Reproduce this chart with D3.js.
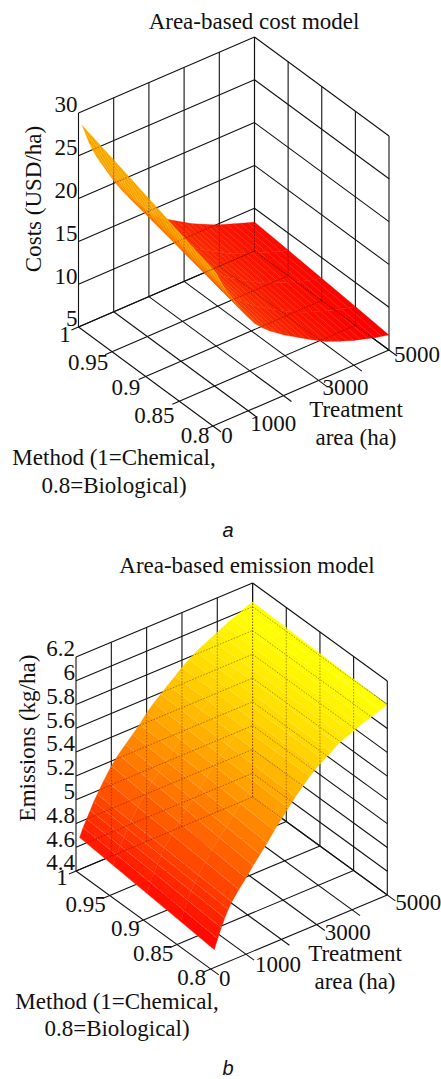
<!DOCTYPE html>
<html lang="en">

<head>
    <meta charset="UTF-8">
    <title>Area-based models</title>
    <script src="https://d3js.org/d3.v7.min.js"></script>
    <style>
        body { margin: 0; background: #fff; }
        svg { display: block; }
        text { font-family: "Liberation Serif", serif; fill: #111; }
    </style>
</head>

<body>
    <svg width="441" height="1079" class="block"></svg>
</body>

<script>
    // values
    var areas = [100, 200, 300, 400, 500, 600, 800, 1000, 1200, 1400, 1600, 1800, 2000, 2200, 2400, 2600, 2800, 3000, 3200, 3400, 3600, 3800, 4000, 4200, 4400, 4600, 4800, 5000];
    var areaTicks = [0, 1000, 2000, 3000, 4000, 5000];
    var areaLabels = [0, 1000, 3000, 5000];
    var methodTicks = [1, 0.95, 0.9, 0.85, 0.8];

    var costTicks = [5, 10, 15, 20, 25, 30];
    var costAt100 = [28.4, 27.2, 26.0, 25.0, 24.1, 23.3, 21.8, 20.3, 19.0, 17.8, 16.8, 15.8, 14.8, 14.0, 13.4, 12.9, 12.4, 11.9, 11.4, 11.0, 10.6, 10.2, 9.85, 9.55, 9.25, 8.95, 8.65, 8.4];
    var costAt95 = [27.0, 25.8, 24.7, 23.75, 22.9, 22.1, 20.65, 19.2, 17.95, 16.85, 15.9, 15.0, 14.1, 13.4, 12.8, 12.3, 11.8, 11.35, 10.85, 10.45, 10.1, 9.7, 9.4, 9.1, 8.8, 8.5, 8.2, 8.0];
    var costAt90 = [25.55, 24.45, 23.4, 22.5, 21.7, 20.95, 19.5, 18.1, 16.9, 15.9, 15.05, 14.25, 13.45, 12.8, 12.25, 11.75, 11.25, 10.8, 10.3, 9.9, 9.55, 9.2, 8.9, 8.6, 8.3, 8.05, 7.8, 7.6];
    var costAt85 = [24.1, 23.1, 22.1, 21.25, 20.5, 19.8, 18.35, 17.0, 15.85, 14.95, 14.2, 13.5, 12.8, 12.2, 11.7, 11.2, 10.7, 10.2, 9.75, 9.4, 9.0, 8.7, 8.4, 8.1, 7.85, 7.6, 7.4, 7.2];
    var costAt80 = [22.7, 21.7, 20.8, 20.0, 19.3, 18.6, 17.2, 15.9, 14.8, 14.0, 13.3, 12.7, 12.1, 11.6, 11.1, 10.6, 10.1, 9.65, 9.2, 8.85, 8.5, 8.2, 7.9, 7.65, 7.4, 7.15, 6.95, 6.75];

    var emissionTicks = [4.4, 4.6, 4.8, 5, 5.2, 5.4, 5.6, 5.8, 6, 6.2];
    var emissionAt100 = [4.67, 4.74, 4.80, 4.86, 4.92, 4.97, 5.07, 5.16, 5.23, 5.29, 5.35, 5.41, 5.48, 5.54, 5.59, 5.64, 5.69, 5.74, 5.78, 5.82, 5.85, 5.88, 5.91, 5.94, 5.97, 5.99, 6.02, 6.04];
    var emissionAt95 = [4.64, 4.715, 4.78, 4.84, 4.90, 4.95, 5.045, 5.13, 5.205, 5.265, 5.33, 5.395, 5.465, 5.525, 5.58, 5.635, 5.685, 5.735, 5.775, 5.815, 5.85, 5.88, 5.905, 5.935, 5.965, 5.985, 6.01, 6.03];
    var emissionAt90 = [4.61, 4.69, 4.76, 4.82, 4.88, 4.93, 5.02, 5.10, 5.18, 5.24, 5.31, 5.38, 5.45, 5.51, 5.57, 5.63, 5.68, 5.73, 5.77, 5.81, 5.85, 5.88, 5.90, 5.93, 5.96, 5.98, 6.00, 6.02];
    var emissionAt85 = [4.58, 4.66, 4.735, 4.80, 4.86, 4.91, 4.995, 5.07, 5.15, 5.215, 5.285, 5.36, 5.43, 5.495, 5.56, 5.62, 5.675, 5.725, 5.765, 5.805, 5.845, 5.875, 5.895, 5.925, 5.95, 5.97, 5.99, 6.01];
    var emissionAt80 = [4.55, 4.63, 4.71, 4.78, 4.84, 4.89, 4.97, 5.04, 5.12, 5.19, 5.26, 5.34, 5.41, 5.48, 5.55, 5.61, 5.67, 5.72, 5.76, 5.80, 5.84, 5.87, 5.89, 5.92, 5.94, 5.96, 5.98, 6.0];

    var svg = d3.select('.block');

    // fine mesh stripes for the cost surface
    var defs = svg.append('defs');
    defs.append('pattern')
        .attr('id', 'mesh')
        .attr('width', 2.2)
        .attr('height', 2.2)
        .attr('patternUnits', 'userSpaceOnUse')
        .attr('patternTransform', 'rotate(-30)')
        .append('rect')
        .attr('width', 0.9)
        .attr('height', 2.2)
        .attr('fill', '#800');

    // one 3D box: F = front floor corner, R = right, L = left, h = wall height
    function drawPanel(p, id) {
        var g = svg.append('g');

        var areaX = d3.scaleLinear().domain([0, 5000]).range([p.F[0], p.R[0]]);
        var areaY = d3.scaleLinear().domain([0, 5000]).range([p.F[1], p.R[1]]);
        var methodX = d3.scaleLinear().domain([0.8, 1]).range([0, p.L[0] - p.F[0]]);
        var methodY = d3.scaleLinear().domain([0.8, 1]).range([0, p.L[1] - p.F[1]]);
        var zZero = p.zTicks[0];
        var zMax = p.zTicks[p.zTicks.length - 1];
        var zHeight = d3.scaleLinear().domain([zZero, zMax]).range([0, -p.h]);

        function project(a, m, z) {
            return [areaX(a) + methodX(m), areaY(a) + methodY(m) + zHeight(z)];
        }

        // wall and floor lines as pairs of 3D points
        var wallLines = [];
        var floorLines = [];
        var tickA = 5000 * 0.04, tickM = 0.2 * 0.06;
        p.zTicks.forEach(function (z) {
            wallLines.push([[0, 1, z], [5000, 1, z]]);
            wallLines.push([[5000, 1, z], [5000, 0.8, z]]);
        });
        areaTicks.forEach(function (a) {
            wallLines.push([[a, 1, zZero], [a, 1, zMax]]);
            floorLines.push([[a, 1, zZero], [a, 0.8 - tickM, zZero]]);
        });
        methodTicks.forEach(function (m) {
            wallLines.push([[5000, m, zZero], [5000, m, zMax]]);
            floorLines.push([[5000, m, zZero], [0 - tickA, m, zZero]]);
        });

        var line = d3.line();
        function pathOf(d) {
            return line(d.map(function (q) { return project(q[0], q[1], q[2]); }));
        }

        g.append('g').selectAll('path')
            .data(wallLines.concat(floorLines))
            .enter()
            .append('path')
            .attr('d', pathOf)
            .attr('fill', 'none')
            .attr('stroke', '#111')
            .attr('stroke-width', 1.1);

        // surface cells, painted from the back corner to the front
        var cells = [];
        for (var j = areas.length - 2; j >= 0; j--) {
            for (var i = 0; i < methodTicks.length - 1; i++) {
                var zs = [p.values[i][j], p.values[i][j + 1], p.values[i + 1][j + 1], p.values[i + 1][j]];
                cells.push({
                    pts: [
                        project(areas[j], methodTicks[i], zs[0]),
                        project(areas[j + 1], methodTicks[i], zs[1]),
                        project(areas[j + 1], methodTicks[i + 1], zs[2]),
                        project(areas[j], methodTicks[i + 1], zs[3])
                    ],
                    z: d3.mean(zs)
                });
            }
        }
        function polyPath(d) { return line(d.pts) + 'Z'; }

        g.append('g').selectAll('path')
            .data(cells)
            .enter()
            .append('path')
            .attr('d', polyPath)
            .attr('fill', function (d) { return p.color(d.z); })
            .attr('stroke', function (d) { return p.color(d.z); })
            .attr('stroke-width', 0.3);

        g.append('clipPath').attr('id', id).selectAll('path')
            .data(cells)
            .enter()
            .append('path')
            .attr('d', polyPath);

        var over = g.append('g').attr('clip-path', 'url(#' + id + ')');

        if (p.fineMesh) {
            over.append('rect')
                .attr('x', 0).attr('y', 0).attr('width', 441).attr('height', 1079)
                .attr('fill', 'url(#mesh)')
                .attr('opacity', 0.13);
        } else {
            // pale mesh lines along each treatment area
            over.append('g').selectAll('path')
                .data(areas)
                .enter()
                .append('path')
                .attr('d', function (a, j) {
                    return line(methodTicks.map(function (m, i) { return project(a, m, p.values[i][j]); }));
                })
                .attr('fill', 'none')
                .attr('stroke', '#fff')
                .attr('stroke-width', 0.8)
                .attr('stroke-dasharray', '1 1')
                .attr('opacity', 0.4);
        }

        // grid shows through the surface as faint dotted lines
        over.append('g').selectAll('path')
            .data(p.fineMesh ? wallLines.concat(floorLines) : wallLines)
            .enter()
            .append('path')
            .attr('d', pathOf)
            .attr('fill', 'none')
            .attr('stroke', '#400')
            .attr('stroke-width', 1)
            .attr('stroke-dasharray', '1.5 1.5')
            .attr('opacity', 0.4);

        // z axis
        var zScale = d3.scaleLinear().domain([zZero, zMax]).range([p.L[1], p.L[1] - p.h]);
        var zAxis = d3.axisLeft(zScale).tickValues(p.zTicks).tickSize(0).tickPadding(1)
            .tickFormat(function (d) { return d; });
        var ax = g.append('g')
            .attr('transform', 'translate(' + p.L[0] + ',-8.5)')
            .call(zAxis);
        ax.select('.domain').remove();
        ax.selectAll('text').style('font-size', '23px').style('font-family', '"Liberation Serif", serif').attr('fill', '#111');

        // oblique axes
        g.selectAll('text.method')
            .data(methodTicks)
            .enter()
            .append('text')
            .attr('class', 'method')
            .attr('text-anchor', 'middle')
            .attr('dy', '0.32em')
            .style('font-size', '23px')
            .attr('x', function (d, i) { return project(0, d, zZero)[0] + p.methodOffsets[i][0]; })
            .attr('y', function (d, i) { return project(0, d, zZero)[1] + p.methodOffsets[i][1]; })
            .text(function (d) { return d; });

        g.selectAll('text.area')
            .data(areaLabels)
            .enter()
            .append('text')
            .attr('class', 'area')
            .attr('text-anchor', 'middle')
            .attr('dy', '0.32em')
            .style('font-size', '23px')
            .attr('x', function (d, i) { return project(d, 0.8, zZero)[0] + p.areaOffsets[i][0]; })
            .attr('y', function (d, i) { return project(d, 0.8, zZero)[1] + p.areaOffsets[i][1]; })
            .text(function (d) { return d; });

        // titles and axis names
        p.labels.forEach(function (t) {
            g.append('text')
                .attr('text-anchor', 'middle')
                .attr('dy', '0.32em')
                .attr('transform', 'translate(' + t.x + ',' + t.y + ')' + (t.rotate ? ' rotate(-90)' : ''))
                .style('font-size', '23px')
                .text(t.text);
        });

        g.append('text')
            .attr('x', p.letter[0])
            .attr('y', p.letter[1])
            .attr('text-anchor', 'middle')
            .style('font-family', '"Liberation Sans", sans-serif')
            .style('font-style', 'italic')
            .style('font-size', '20px')
            .text(p.letter[2]);
    }

    drawPanel({
        F: [213, 426], R: [389, 350], L: [78.5, 327], h: 214,
        zTicks: costTicks,
        values: [costAt100, costAt95, costAt90, costAt85, costAt80],
        color: d3.scaleLinear().domain([6.75, 14, 22, 29]).range(['#ff0000', '#ff3a00', '#ffaa00', '#ffba00']).clamp(true),
        fineMesh: true,
        methodOffsets: [[-13.5, 8], [-24, 11], [-20, 11.5], [-25, 14], [-18, 10]],
        areaOffsets: [[14, 10], [25, 13], [27, 7], [28, 5]],
        labels: [
            { text: 'Area-based cost model', x: 254, y: 22 },
            { text: 'Costs (USD/ha)', x: 34, y: 199, rotate: true },
            { text: 'Treatment', x: 356, y: 410 },
            { text: 'area (ha)', x: 356, y: 438 },
            { text: 'Method (1=Chemical,', x: 114, y: 458 },
            { text: '0.8=Biological)', x: 114, y: 486 }
        ],
        letter: [228, 537, 'a']
    }, 'surf-a');

    drawPanel({
        F: [210.7, 969], R: [387.3, 895], L: [76, 871], h: 214,
        zTicks: emissionTicks,
        values: [emissionAt100, emissionAt95, emissionAt90, emissionAt85, emissionAt80],
        color: d3.scaleLinear().domain([4.55, 6.0]).range(['#ff0000', '#ffff00']).clamp(true),
        fineMesh: false,
        methodOffsets: [[-14, 7], [-24, 9.5], [-18, 9], [-24, 9.5], [-19, 9]],
        areaOffsets: [[14, 10], [32, 10], [31, 8.5], [31, 8]],
        labels: [
            { text: 'Area-based emission model', x: 247, y: 566 },
            { text: 'Emissions (kg/ha)', x: 28, y: 738, rotate: true },
            { text: 'Treatment', x: 355, y: 954 },
            { text: 'area (ha)', x: 355, y: 982 },
            { text: 'Method (1=Chemical,', x: 117, y: 1002 },
            { text: '0.8=Biological)', x: 117, y: 1029 }
        ],
        letter: [228, 1075, 'b']
    }, 'surf-b');
</script>

</html>
